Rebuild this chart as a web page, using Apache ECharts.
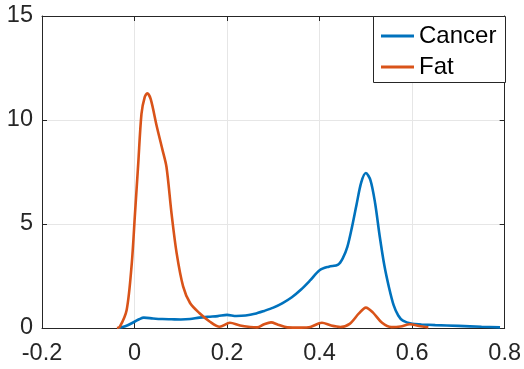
<!DOCTYPE html>
<html>
<head>
<meta charset="utf-8">
<script src="https://cdn.jsdelivr.net/npm/echarts@6/dist/echarts.min.js"></script>
<style>html,body{margin:0;padding:0;background:#fff}#c{width:524px;height:369px}</style>
</head>
<body>
<div id="c"></div>
<script>
var seriesNames = ['Cancer', 'Fat'];
var xTicks = [-0.2, 0, 0.2, 0.4, 0.6, 0.8];
var yTicks = [0, 5, 10, 15];

var cancerX = [-0.035, -0.02, 0.0, 0.01, 0.02, 0.04, 0.06, 0.08, 0.10, 0.12, 0.14, 0.16, 0.18, 0.20, 0.22, 0.24, 0.26, 0.28, 0.30, 0.32, 0.34, 0.36, 0.38, 0.40, 0.42, 0.44, 0.45, 0.46, 0.47, 0.48, 0.49, 0.50, 0.51, 0.52, 0.53, 0.54, 0.55, 0.56, 0.57, 0.58, 0.60, 0.62, 0.65, 0.70, 0.75, 0.79];
var cancerY = [0, 0.08, 0.3, 0.42, 0.5, 0.46, 0.43, 0.42, 0.41, 0.43, 0.5, 0.54, 0.57, 0.63, 0.58, 0.6, 0.68, 0.82, 0.98, 1.2, 1.48, 1.85, 2.3, 2.78, 2.95, 3.05, 3.35, 3.9, 4.85, 5.95, 7.0, 7.45, 7.1, 6.0, 4.4, 3.0, 1.95, 1.1, 0.6, 0.35, 0.2, 0.17, 0.14, 0.1, 0.06, 0.03];

var fatX = [-0.038, -0.032, -0.017, -0.006, 0.001, 0.008, 0.015, 0.022, 0.0275, 0.035, 0.048, 0.06, 0.069, 0.08, 0.091, 0.105, 0.12, 0.14, 0.163, 0.184, 0.206, 0.228, 0.25, 0.265, 0.28, 0.295, 0.31, 0.33, 0.36, 0.38, 0.405, 0.425, 0.445, 0.465, 0.485, 0.50, 0.515, 0.535, 0.555, 0.575, 0.595, 0.615, 0.635];
var fatY = [0, 0.05, 0.87, 3.1, 5.5, 7.9, 10.3, 11.1, 11.28, 11.0, 9.7, 8.6, 7.75, 5.5, 3.6, 2.0, 1.2, 0.72, 0.3, 0.06, 0.25, 0.12, 0.05, 0.03, 0.18, 0.27, 0.16, 0.03, 0.02, 0.05, 0.25, 0.12, 0.05, 0.2, 0.7, 0.98, 0.75, 0.25, 0.04, 0.07, 0.18, 0.1, 0.03];

function pairs(xs, ys) { return xs.map(function (x, i) { return [x, ys[i]]; }); }

var FONT = 'Liberation Sans, Arial, Helvetica, sans-serif';
var AX = '#262626';
var GRIDC = '#e6e6e6';

var chart = echarts.init(document.getElementById('c'), null, {renderer: 'canvas'});
chart.setOption({
  animation: false,
  backgroundColor: '#fff',
  grid: {left: 42, right: 19, top: 16, bottom: 41, containLabel: false, show: false},
  xAxis: [{
    type: 'value', min: xTicks[0], max: xTicks[xTicks.length - 1], interval: 0.2,
    axisLine: {show: true, onZero: false, lineStyle: {color: AX, width: 1}},
    axisTick: {show: true, inside: true, length: 5, lineStyle: {color: AX}},
    axisLabel: {color: AX, fontSize: 23.5, fontFamily: FONT, margin: 14,
      formatter: function (v) { return String(Math.round(v * 10) / 10); }},
    splitLine: {show: true, lineStyle: {color: GRIDC, width: 1}}
  }, {
    type: 'value', position: 'top', min: xTicks[0], max: xTicks[xTicks.length - 1], interval: 0.2,
    axisLine: {show: true, onZero: false, lineStyle: {color: AX, width: 1}},
    axisTick: {show: true, inside: true, length: 5, lineStyle: {color: AX}},
    axisLabel: {show: false}, splitLine: {show: false}
  }],
  yAxis: [{
    type: 'value', min: yTicks[0], max: yTicks[yTicks.length - 1], interval: 5,
    axisLine: {show: true, onZero: false, lineStyle: {color: AX, width: 1}},
    axisTick: {show: true, inside: true, length: 5, lineStyle: {color: AX}},
    axisLabel: {color: AX, fontSize: 23.5, fontFamily: FONT, margin: 9},
    splitLine: {show: true, lineStyle: {color: GRIDC, width: 1}}
  }, {
    type: 'value', position: 'right', min: yTicks[0], max: yTicks[yTicks.length - 1], interval: 5,
    axisLine: {show: true, onZero: false, lineStyle: {color: AX, width: 1}},
    axisTick: {show: true, inside: true, length: 5, lineStyle: {color: AX}},
    axisLabel: {show: false}, splitLine: {show: false}
  }],
  legend: {
    left: 373, top: 16, orient: 'vertical', z: 10,
    padding: [8, 8, 4, 8], itemGap: 7,
    icon: 'rect', itemWidth: 33, itemHeight: 3,
    textStyle: {fontSize: 24, fontFamily: FONT, color: '#000'},
    data: seriesNames
  },
  graphic: [{
    type: 'rect', z: 5, shape: {x: 373.5, y: 16.5, width: 132, height: 66},
    style: {fill: '#fff', stroke: AX, lineWidth: 1}
  }],
  series: [{
    name: seriesNames[0], type: 'line', data: pairs(cancerX, cancerY),
    smooth: 0.3, showSymbol: false, symbol: 'none',
    lineStyle: {color: '#0072BD', width: 2.6}, itemStyle: {color: '#0072BD'}
  }, {
    name: seriesNames[1], type: 'line', data: pairs(fatX, fatY),
    smooth: 0.3, showSymbol: false, symbol: 'none',
    lineStyle: {color: '#D95319', width: 2.6}, itemStyle: {color: '#D95319'}
  }]
});
</script>
</body>
</html>
